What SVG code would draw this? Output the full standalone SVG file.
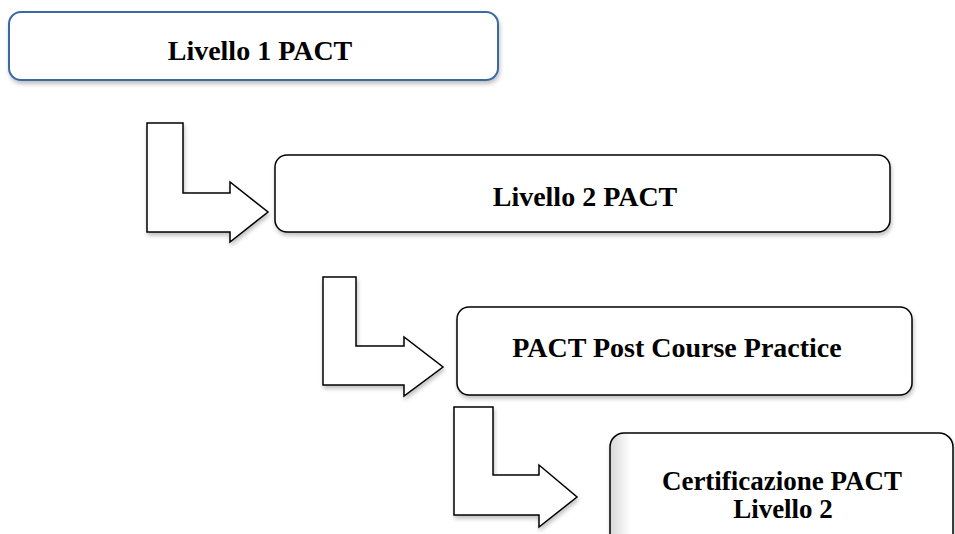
<svg xmlns="http://www.w3.org/2000/svg" width="955" height="534" viewBox="0 0 955 534">
<style>
.box{fill:#ffffff;stroke:#000000;stroke-width:1.5;filter:url(#sh)}
.box1{fill:#ffffff;stroke:#3a6aa3;stroke-width:2;filter:url(#sh)}
.arr{fill:#ffffff;stroke:#000000;stroke-width:1.5;stroke-linejoin:miter;filter:url(#sh)}
.t{font-family:"Liberation Serif","Times New Roman",serif;font-weight:bold;font-size:28px;fill:#000000;text-anchor:middle}
.t4{font-size:27px}
</style>
<defs>
<filter id="sh" x="-5%" y="-10%" width="115%" height="130%">
<feGaussianBlur in="SourceAlpha" stdDeviation="2"/>
<feOffset dx="1" dy="3" result="o"/>
<feComponentTransfer><feFuncA type="linear" slope="0.25"/></feComponentTransfer>
<feMerge><feMergeNode/><feMergeNode in="SourceGraphic"/></feMerge>
</filter>
<linearGradient id="g4" x1="0" y1="0" x2="1" y2="0">
<stop offset="0" stop-color="#d8d8d8"/>
<stop offset="0.06" stop-color="#ffffff"/>
</linearGradient>
</defs>
<g id="connectors">
<path class="arr" d="M147,123 H183 V193 H230 V182 L268,212 L230,242 V232 H147 Z"/>
<path class="arr" d="M323,277 H356 V346 H404 V337 L443,367 L404,396 V385 H323 Z"/>
<path class="arr" d="M454,407 H493 V475 H539 V465 L577,497 L539,527 V515 H454 Z"/>
</g>
<g id="node1">
<rect class="box1" x="9" y="12" width="489" height="68" rx="12"/>
<text class="t" x="260" y="60">Livello 1 PACT</text>
</g>
<g id="node2">
<rect class="box" x="275" y="155" width="615" height="77" rx="12"/>
<text class="t" x="585" y="206">Livello 2 PACT</text>
</g>
<g id="node3">
<rect class="box" x="457" y="307" width="455" height="88" rx="12"/>
<text class="t" x="677" y="357">PACT Post Course Practice</text>
</g>
<g id="node4">
<rect class="box" style="fill:url(#g4)" x="610" y="433" width="343" height="120" rx="14"/>
<text class="t t4" x="782" y="490">Certificazione PACT</text>
<text class="t t4" x="783" y="518">Livello 2</text>
</g>
</svg>
